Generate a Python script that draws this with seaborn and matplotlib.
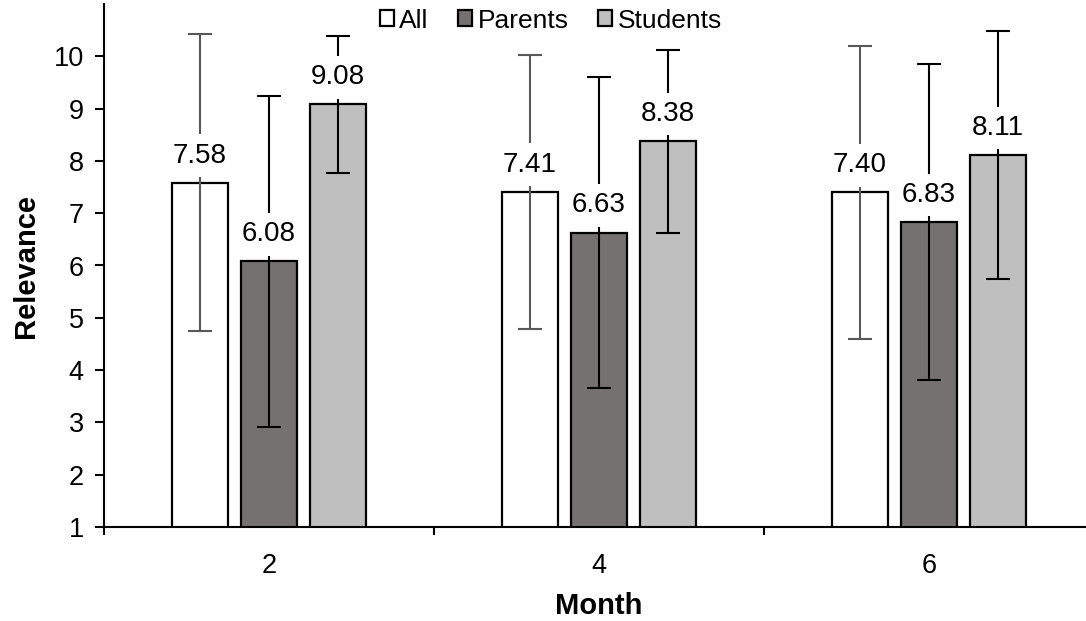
import matplotlib
matplotlib.use("Agg")
import matplotlib.pyplot as plt
import seaborn as sns
import pandas as pd
import numpy as np

months = ["2", "4", "6"]
groups = ["All", "Parents", "Students"]
all_vals = [7.58, 7.41, 7.40]
parents_vals = [6.08, 6.63, 6.83]
students_vals = [9.08, 8.38, 8.11]
all_err = [2.84, 2.62, 2.80]
parents_err = [3.17, 2.98, 3.02]
students_err = [1.31, 1.75, 2.37]
colors = ["#FFFFFF", "#767171", "#BFBFBF"]
err_colors = ["#595959", "#000000", "#000000"]

vals = [all_vals, parents_vals, students_vals]
errs = [all_err, parents_err, students_err]

df = pd.DataFrame({
    "Month": months * 3,
    "Group": [g for g in groups for _ in months],
    "Relevance": all_vals + parents_vals + students_vals,
})

sns.set_theme(style="white")
plt.rcParams["font.family"] = ["Liberation Sans", "DejaVu Sans"]
plt.rcParams["text.color"] = "black"
plt.rcParams["axes.labelcolor"] = "black"
plt.rcParams["xtick.color"] = "black"
plt.rcParams["ytick.color"] = "black"

fig = plt.figure(figsize=(10.86, 6.21), dpi=100)
ax = fig.add_axes([104 / 1086, 1 - 527 / 621, 990 / 1086, 523 / 621])

sns.barplot(data=df, x="Month", y="Relevance", hue="Group", order=months,
            hue_order=groups, palette=colors, edgecolor="black", linewidth=1.6,
            width=0.627, gap=0.2, errorbar=None, ax=ax, saturation=1)

bar_containers = list(ax.containers)
for i, cont in enumerate(bar_containers):
    xs = [p.get_x() + p.get_width() / 2 for p in cont.patches]
    ax.errorbar(xs, vals[i], yerr=errs[i], fmt="none", ecolor=err_colors[i],
                elinewidth=1.5, capsize=8.6, capthick=1.5, zorder=3)
    for x, v in zip(xs, vals[i]):
        ax.annotate(f"{v:.2f}", (x, v), xytext=(0, 19.5), textcoords="offset points",
                    ha="center", va="center", fontsize=20, color="black", zorder=5,
                    bbox=dict(boxstyle="square,pad=0.3", fc="white", ec="none"))

ax.set_ylim(1, 11)
ax.set_yticks(range(1, 11))
ax.set_xlim(-0.5, 2.5)
ax.set_xticks([-0.5, 0.5, 1.5, 2.5], minor=True)
ax.tick_params(axis="x", which="major", length=0, pad=19, labelsize=19.5, colors="black")
ax.tick_params(axis="x", which="minor", length=6, width=1.5, direction="out", bottom=True, colors="black")
ax.tick_params(axis="y", length=6.5, width=1.5, direction="out", left=True, pad=8, labelsize=19.5, colors="black")

for s in ["top", "right"]:
    ax.spines[s].set_visible(False)
for s in ["left", "bottom"]:
    ax.spines[s].set_linewidth(1.5)
    ax.spines[s].set_color("black")

ax.set_xlabel("Month", fontsize=21, fontweight="bold", labelpad=9, color="black")
ax.set_ylabel("Relevance", fontsize=21, fontweight="bold", labelpad=10, color="black")

handles, labels = ax.get_legend_handles_labels()
if ax.get_legend() is not None:
    ax.get_legend().remove()
fig.legend(handles, labels, loc="upper center", bbox_to_anchor=(0.507, 1.003), ncol=3,
           frameon=False, fontsize=19, handlelength=0.55, handleheight=0.55,
           handletextpad=0.2, columnspacing=1.1, borderaxespad=0)

fig.savefig("out.png", dpi=100)
